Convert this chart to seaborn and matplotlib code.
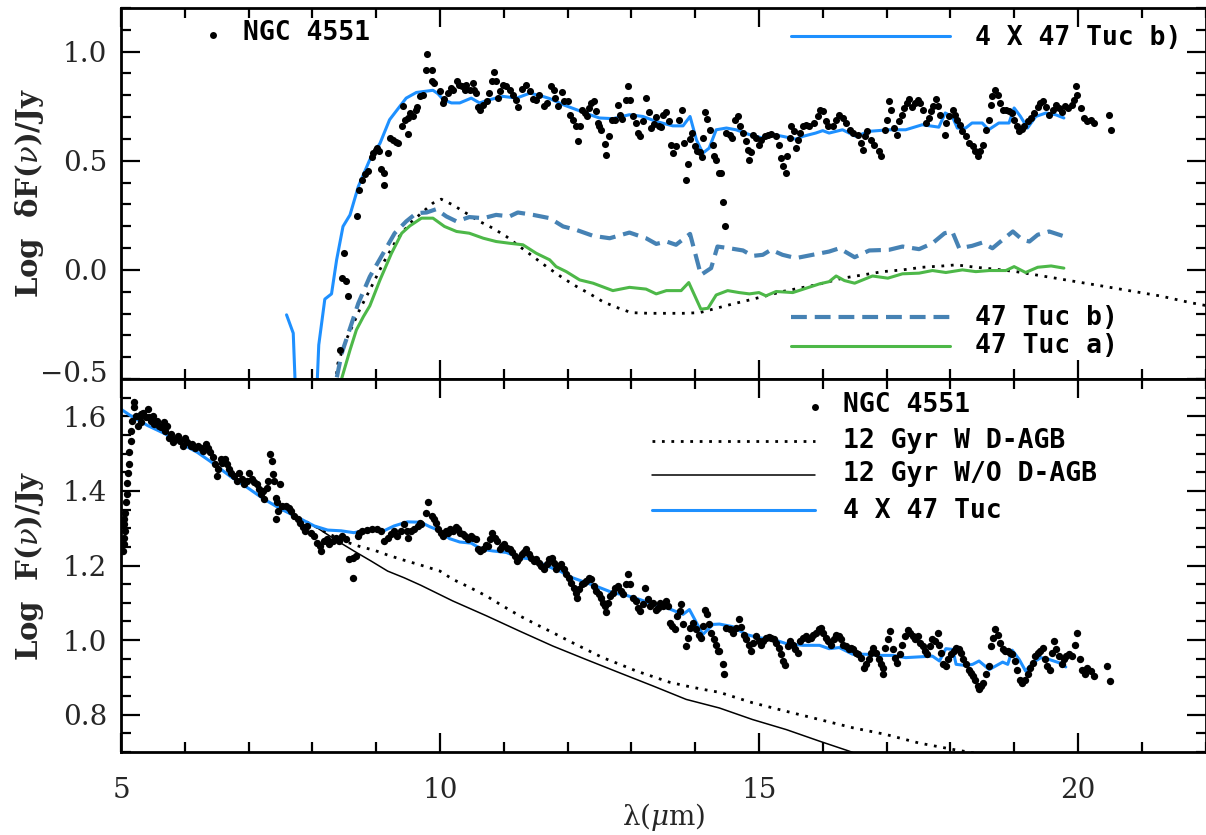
import matplotlib
matplotlib.use("Agg")
import matplotlib.pyplot as plt
import matplotlib.transforms as mtransforms
from matplotlib.ticker import MultipleLocator, FixedLocator
import seaborn as sns
import pandas as pd

# ---------------- DATA ----------------
# Top panel: NGC 4551 residual spectrum (Log dF(nu)/Jy)
top_ngc_points = [
    (8.43, -0.367), (8.49, 0.077), (8.46, -0.038), (8.53, -0.053), (8.56, -0.119),
    (8.70, 0.248), (8.73, 0.367), (8.77, 0.413), (8.82, 0.440), (8.87, 0.451),
    (8.93, 0.517), (8.95, 0.535), (8.99, 0.551), (9.01, 0.558), (9.05, 0.543),
    (9.08, 0.462), (9.13, 0.443), (9.12, 0.390), (9.19, 0.535), (9.21, 0.604),
    (9.27, 0.596), (9.31, 0.584), (9.34, 0.581), (9.42, 0.752), (9.40, 0.658),
    (9.45, 0.688), (9.50, 0.696), (9.53, 0.719), (9.58, 0.703), (9.62, 0.734),
    (9.64, 0.746), (9.50, 0.624), (9.68, 0.798), (9.73, 0.803), (9.80, 0.991),
    (9.78, 0.917), (9.88, 0.914), (9.87, 0.864), (9.90, 0.856), (10.00, 0.818),
    (10.05, 0.765), (10.07, 0.783), (10.13, 0.810), (10.18, 0.833), (10.20, 0.826),
    (10.26, 0.864), (10.30, 0.849), (10.34, 0.841), (10.39, 0.823), (10.41, 0.849),
    (10.47, 0.826), (10.52, 0.856), (10.54, 0.826), (10.57, 0.810), (10.60, 0.746),
    (10.62, 0.731), (10.67, 0.757), (10.73, 0.772), (10.77, 0.810), (10.81, 0.864),
    (10.84, 0.905), (10.88, 0.864), (10.94, 0.818), (10.91, 0.787), (10.99, 0.849),
    (11.04, 0.841), (11.09, 0.826), (11.14, 0.803), (11.19, 0.780), (11.22, 0.746),
    (11.29, 0.829), (11.35, 0.849), (11.41, 0.818), (11.46, 0.783), (11.51, 0.780),
    (11.56, 0.803), (11.63, 0.749), (11.67, 0.765),
    (11.745, 0.841), (11.78, 0.826), (11.81, 0.787), (11.85, 0.749), (11.92, 0.813),
    (11.95, 0.772), (12.01, 0.772), (12.04, 0.711), (12.08, 0.688), (12.13, 0.660),
    (12.16, 0.589), (12.20, 0.658), (12.23, 0.734), (12.27, 0.719), (12.30, 0.703),
    (12.34, 0.742), (12.37, 0.765), (12.41, 0.772), (12.44, 0.726), (12.48, 0.673),
    (12.50, 0.658), (12.53, 0.642), (12.58, 0.578), (12.61, 0.528), (12.65, 0.615),
    (12.69, 0.688), (12.74, 0.688), (12.79, 0.757), (12.82, 0.711), (12.86, 0.691),
    (12.91, 0.780), (12.95, 0.844), (12.98, 0.780), (13.02, 0.703), (13.07, 0.673),
    (13.10, 0.627), (13.14, 0.612), (13.19, 0.680), (13.23, 0.787), (13.27, 0.722),
    (13.31, 0.650), (13.35, 0.670), (13.39, 0.700), (13.43, 0.661), (13.47, 0.654),
    (13.50, 0.711), (13.55, 0.722), (13.59, 0.680), (13.62, 0.573), (13.66, 0.535),
    (13.70, 0.569), (13.75, 0.688), (13.79, 0.731), (13.82, 0.581), (13.85, 0.413),
    (13.89, 0.486), (13.92, 0.599), (13.95, 0.627), (13.99, 0.569), (14.03, 0.547),
    (14.07, 0.538), (14.10, 0.517), (14.13, 0.604), (14.16, 0.722), (14.19, 0.691),
    (14.24, 0.642), (14.28, 0.573), (14.30, 0.520), (14.33, 0.505), (14.37, 0.443),
    (14.40, 0.446), (14.43, 0.313), (14.47, 0.202), (14.49, 0.627), (14.54, 0.619),
    (14.58, 0.604), (14.62, 0.688), (14.67, 0.703), (14.71, 0.661), (14.75, 0.627),
    (14.79, 0.589), (14.83, 0.551), (14.85, 0.505), (14.88, 0.538), (14.91, 0.619),
    (14.96, 0.604), (15.00, 0.573), (15.04, 0.596), (15.09, 0.612), (15.14, 0.619),
    (15.19, 0.624), (15.26, 0.612), (15.31, 0.573), (15.35, 0.512), (15.38, 0.474),
    (15.42, 0.446), (15.44, 0.520), (15.48, 0.604), (15.50, 0.658), (15.55, 0.635),
    (15.58, 0.558), (15.61, 0.596), (15.65, 0.627), (15.69, 0.661), (15.74, 0.665),
    (15.79, 0.658), (15.87, 0.673), (15.92, 0.703), (15.96, 0.734), (16.01, 0.726),
    (16.05, 0.680), (16.09, 0.658),
    (16.16, 0.661), (16.21, 0.688), (16.26, 0.711), (16.31, 0.696), (16.36, 0.673),
    (16.42, 0.642), (16.47, 0.627), (16.55, 0.619), (16.60, 0.581), (16.63, 0.550),
    (16.67, 0.612), (16.70, 0.635), (16.76, 0.596), (16.81, 0.573), (16.88, 0.543),
    (16.91, 0.520), (16.97, 0.642), (17.00, 0.688), (17.04, 0.772), (17.07, 0.734),
    (17.12, 0.650), (17.17, 0.619), (17.20, 0.680), (17.24, 0.711), (17.28, 0.742),
    (17.32, 0.765), (17.36, 0.783), (17.40, 0.746), (17.45, 0.765), (17.49, 0.780),
    (17.52, 0.765), (17.57, 0.734), (17.62, 0.673), (17.66, 0.696), (17.70, 0.726),
    (17.73, 0.752), (17.77, 0.783), (17.80, 0.749), (17.84, 0.711), (17.91, 0.619),
    (17.94, 0.673), (17.98, 0.703), (18.04, 0.734), (18.08, 0.711), (18.11, 0.688),
    (18.15, 0.665), (18.19, 0.635), (18.24, 0.612), (18.30, 0.581), (18.35, 0.566),
    (18.39, 0.543), (18.43, 0.520), (18.46, 0.543), (18.51, 0.573), (18.56, 0.642),
    (18.60, 0.688), (18.64, 0.757), (18.66, 0.795), (18.70, 0.826), (18.74, 0.803),
    (18.78, 0.765), (18.82, 0.734), (18.87, 0.734), (18.92, 0.726), (18.97, 0.719),
    (19.00, 0.688), (19.04, 0.661), (19.08, 0.635), (19.12, 0.645), (19.16, 0.658),
    (19.21, 0.680), (19.26, 0.696), (19.31, 0.719), (19.37, 0.746), (19.40, 0.765),
    (19.45, 0.772), (19.50, 0.746), (19.55, 0.711), (19.61, 0.734), (19.65, 0.757),
    (19.70, 0.742), (19.75, 0.722), (19.80, 0.749), (19.85, 0.742), (19.90, 0.757),
    (19.94, 0.780), (19.97, 0.841), (19.99, 0.803), (20.05, 0.742), (20.10, 0.696),
    (20.15, 0.680), (20.20, 0.688), (20.25, 0.673), (20.49, 0.711), (20.52, 0.642),
]

# Top panel: 4 x 47 Tuc b)
top_tuc4b_points = [
    (7.595, -0.206), (7.70, -0.29), (7.78, -0.9), (8.02, -0.9), (8.10, -0.344),
    (8.195, -0.134), (8.30, -0.11), (8.38, 0.046), (8.48, 0.199), (8.59, 0.252),
    (8.72, 0.382), (8.90, 0.505), (9.06, 0.58), (9.21, 0.688), (9.37, 0.749),
    (9.47, 0.787), (9.63, 0.813), (9.76, 0.818), (9.89, 0.823), (9.97, 0.807),
    (10.05, 0.78), (10.18, 0.765), (10.31, 0.765), (10.49, 0.787), (10.62, 0.765),
    (10.78, 0.78), (10.99, 0.795), (11.20, 0.787), (11.41, 0.81), (11.61, 0.795),
    (11.72, 0.785), (11.93, 0.757), (12.14, 0.734), (12.35, 0.711), (12.50, 0.696),
    (12.71, 0.693), (12.97, 0.711), (13.18, 0.703), (13.39, 0.68), (13.65, 0.66),
    (13.81, 0.66), (13.92, 0.703), (14.02, 0.596), (14.12, 0.535), (14.22, 0.558),
    (14.33, 0.642), (14.49, 0.65), (14.64, 0.642), (14.85, 0.62), (15.06, 0.604),
    (15.22, 0.62), (15.37, 0.612), (15.58, 0.599), (15.69, 0.612), (15.89, 0.627),
    (16.00, 0.638), (16.10, 0.627), (16.31, 0.642), (16.52, 0.612), (16.73, 0.635),
    (17.04, 0.642), (17.30, 0.642), (17.56, 0.665), (17.82, 0.654), (17.92, 0.719),
    (18.03, 0.703), (18.11, 0.65), (18.24, 0.65), (18.34, 0.673), (18.50, 0.673),
    (18.60, 0.642), (18.76, 0.673), (18.92, 0.673), (19.00, 0.742), (19.10, 0.703),
    (19.21, 0.65), (19.34, 0.703), (19.50, 0.719), (19.65, 0.711), (19.78, 0.696),
]

# Top panel: 47 Tuc b) (dashed)
top_tucb_points = [
    (8.33, -0.60), (8.38, -0.497), (8.46, -0.382), (8.59, -0.268), (8.72, -0.153),
    (8.90, -0.031), (9.11, 0.076), (9.29, 0.168), (9.47, 0.222), (9.63, 0.26),
    (9.79, 0.263), (9.94, 0.278), (10.10, 0.245), (10.26, 0.222), (10.46, 0.242),
    (10.68, 0.237), (10.88, 0.252), (11.09, 0.245), (11.22, 0.263), (11.46, 0.252),
    (11.72, 0.237), (11.93, 0.199), (12.14, 0.183), (12.40, 0.156), (12.66, 0.145),
    (12.97, 0.171), (13.23, 0.145), (13.39, 0.119), (13.55, 0.13), (13.70, 0.115),
    (13.92, 0.165), (14.09, -0.023), (14.25, 0.008), (14.35, 0.107), (14.54, 0.099),
    (14.75, 0.089), (14.90, 0.064), (15.06, 0.069), (15.19, 0.092), (15.37, 0.069),
    (15.58, 0.054), (15.84, 0.069), (16.10, 0.084), (16.26, 0.099), (16.50, 0.058),
    (16.73, 0.089), (17.04, 0.092), (17.25, 0.107), (17.51, 0.095), (17.72, 0.122),
    (17.91, 0.168), (18.03, 0.176), (18.14, 0.099), (18.34, 0.11), (18.50, 0.125),
    (18.66, 0.099), (18.82, 0.138), (18.98, 0.176), (19.13, 0.138), (19.24, 0.13),
    (19.37, 0.161), (19.55, 0.176), (19.76, 0.156),
]

# Top panel: 47 Tuc a) (green)
top_tuca_points = [
    (8.40, -0.65), (8.46, -0.497), (8.59, -0.367), (8.69, -0.275), (8.80, -0.214),
    (8.90, -0.165), (9.06, -0.046), (9.24, 0.076), (9.40, 0.168), (9.53, 0.202),
    (9.71, 0.237), (9.89, 0.237), (10.07, 0.199), (10.26, 0.176), (10.46, 0.168),
    (10.68, 0.145), (10.88, 0.13), (11.09, 0.122), (11.30, 0.115), (11.51, 0.076),
    (11.72, 0.046), (11.82, 0.015), (11.98, -0.008), (12.19, -0.046), (12.40, -0.061),
    (12.71, -0.095), (12.97, -0.08), (13.23, -0.088), (13.39, -0.11), (13.55, -0.095),
    (13.78, -0.095), (13.90, -0.058), (14.09, -0.18), (14.20, -0.176), (14.33, -0.115),
    (14.51, -0.095), (14.69, -0.104), (14.85, -0.11), (15.00, -0.104), (15.11, -0.119),
    (15.27, -0.099), (15.53, -0.104), (15.74, -0.084), (15.95, -0.064), (16.10, -0.054),
    (16.21, -0.028), (16.34, -0.049), (16.50, -0.061), (16.78, -0.028), (17.02, -0.038),
    (17.25, -0.018), (17.51, -0.015), (17.72, -0.003), (17.93, -0.012), (18.19, 0.0),
    (18.40, -0.008), (18.61, -0.003), (18.87, -0.003), (19.00, 0.015), (19.18, -0.012),
    (19.37, 0.012), (19.58, 0.018), (19.78, 0.008),
]

# Top panel: dotted model curve
top_dagb_points = [
    (8.36, -0.52), (8.40, -0.428), (8.53, -0.321), (8.74, -0.183), (8.90, -0.092),
    (9.11, 0.031), (9.32, 0.138), (9.53, 0.214), (9.74, 0.268), (9.89, 0.306),
    (10.02, 0.324), (10.20, 0.298), (10.41, 0.26), (10.62, 0.222), (10.83, 0.191),
    (11.04, 0.153), (11.25, 0.107), (11.46, 0.061), (11.67, 0.015), (11.93, -0.038),
    (12.14, -0.076), (12.35, -0.11), (12.55, -0.145), (12.76, -0.171), (13.00, -0.196),
    (13.28, -0.199), (13.55, -0.199), (13.81, -0.199), (14.07, -0.196), (14.33, -0.176),
    (14.59, -0.156), (14.85, -0.138), (15.11, -0.119), (15.37, -0.099), (15.63, -0.084),
    (15.89, -0.069), (16.10, -0.054), (16.31, -0.038), (16.63, -0.023), (16.94, -0.008),
    (17.25, 0.0), (17.56, 0.012), (17.88, 0.018), (18.09, 0.023), (18.40, 0.012),
    (18.71, 0.003), (19.03, -0.008), (19.34, -0.023), (19.65, -0.038), (19.97, -0.054),
    (20.28, -0.069), (20.80, -0.095), (21.30, -0.12), (21.76, -0.15), (22.00, -0.163),
]

# Bottom panel: NGC 4551 spectrum (Log F(nu)/Jy)
bot_ngc_points = [
    (5.03, 1.239), (5.04, 1.257), (5.05, 1.275), (5.06, 1.293), (5.05, 1.311),
    (5.04, 1.324), (5.06, 1.342), (5.08, 1.369), (5.09, 1.391), (5.10, 1.420),
    (5.11, 1.449), (5.13, 1.473), (5.13, 1.503), (5.15, 1.534), (5.16, 1.561),
    (5.18, 1.588), (5.21, 1.626), (5.20, 1.637), (5.23, 1.601), (5.26, 1.575),
    (5.29, 1.597), (5.31, 1.606), (5.32, 1.584), (5.35, 1.610), (5.39, 1.597),
    (5.42, 1.619), (5.44, 1.597), (5.47, 1.588), (5.50, 1.601), (5.52, 1.579),
    (5.56, 1.588), (5.60, 1.575), (5.63, 1.570), (5.67, 1.584), (5.69, 1.561),
    (5.72, 1.575), (5.76, 1.543), (5.78, 1.552), (5.81, 1.530), (5.85, 1.539),
    (5.89, 1.548), (5.93, 1.534), (5.97, 1.521), (6.00, 1.543), (6.04, 1.530),
    (6.09, 1.521), (6.12, 1.525), (6.16, 1.516), (6.20, 1.521), (6.25, 1.516),
    (6.29, 1.507), (6.33, 1.525), (6.37, 1.516), (6.40, 1.503), (6.44, 1.490),
    (6.47, 1.472), (6.50, 1.440), (6.52, 1.458), (6.56, 1.485), (6.59, 1.476),
    (6.63, 1.485), (6.66, 1.472), (6.70, 1.458), (6.73, 1.449), (6.77, 1.440),
    (6.82, 1.427), (6.85, 1.449), (6.89, 1.431), (6.93, 1.418), (6.97, 1.427),
    (7.01, 1.449), (7.05, 1.431), (7.09, 1.423), (7.13, 1.418), (7.17, 1.405),
    (7.19, 1.391), (7.22, 1.400), (7.24, 1.378), (7.29, 1.409), (7.31, 1.427),
    (7.34, 1.499), (7.36, 1.479), (7.38, 1.445), (7.40, 1.427), (7.43, 1.382),
    (7.44, 1.369), (7.46, 1.346), (7.43, 1.324), (7.50, 1.418), (7.53, 1.360),
    (7.58, 1.360), (7.64, 1.355), (7.67, 1.346), (7.71, 1.333), (7.77, 1.324),
    (7.81, 1.315), (7.85, 1.302), (7.88, 1.293), (7.92, 1.306), (7.98, 1.288),
    (8.03, 1.279), (8.08, 1.261), (8.12, 1.252), (8.14, 1.239), (8.18, 1.266),
    (8.23, 1.270), (8.26, 1.257), (8.32, 1.266), (8.37, 1.275), (8.42, 1.266),
    (8.47, 1.279), (8.52, 1.270), (8.58, 1.217), (8.63, 1.221), (8.64, 1.167),
    (8.68, 1.226), (8.71, 1.279), (8.73, 1.288), (8.78, 1.293), (8.86, 1.295),
    (8.94, 1.297), (9.02, 1.297), (9.07, 1.293), (9.12, 1.266), (9.18, 1.275),
    (9.23, 1.284), (9.28, 1.293), (9.33, 1.279), (9.39, 1.293), (9.44, 1.311),
    (9.48, 1.293), (9.50, 1.275), (9.54, 1.293), (9.59, 1.297), (9.65, 1.306),
    (9.69, 1.315),
    (9.71, 1.311), (9.78, 1.342), (9.81, 1.371), (9.87, 1.333), (9.90, 1.324),
    (9.93, 1.315), (9.97, 1.297), (10.01, 1.288), (10.05, 1.279), (10.09, 1.293),
    (10.13, 1.288), (10.16, 1.297), (10.20, 1.293), (10.25, 1.302), (10.28, 1.297),
    (10.32, 1.288), (10.36, 1.284), (10.40, 1.279), (10.44, 1.270), (10.48, 1.279),
    (10.52, 1.275), (10.56, 1.270), (10.60, 1.244), (10.63, 1.239), (10.68, 1.244),
    (10.72, 1.254), (10.75, 1.252), (10.79, 1.270), (10.82, 1.288), (10.86, 1.275),
    (10.89, 1.266), (10.94, 1.244), (10.98, 1.252), (11.01, 1.257), (11.05, 1.248),
    (11.09, 1.244), (11.13, 1.235), (11.17, 1.226), (11.21, 1.212), (11.24, 1.221),
    (11.28, 1.230), (11.31, 1.235), (11.35, 1.244), (11.40, 1.230), (11.43, 1.221),
    (11.47, 1.212), (11.51, 1.217), (11.55, 1.208), (11.59, 1.199), (11.63, 1.190),
    (11.67, 1.203), (11.71, 1.217), (11.75, 1.221), (11.78, 1.208), (11.82, 1.190),
    (11.87, 1.199), (11.90, 1.203), (11.94, 1.190), (11.98, 1.176), (12.02, 1.167),
    (12.06, 1.154), (12.10, 1.141), (12.13, 1.127), (12.15, 1.114), (12.18, 1.136),
    (12.22, 1.150), (12.25, 1.154), (12.29, 1.159), (12.34, 1.167), (12.37, 1.163),
    (12.41, 1.145), (12.45, 1.132), (12.49, 1.123), (12.53, 1.114), (12.55, 1.100),
    (12.58, 1.091), (12.61, 1.074), (12.63, 1.100), (12.67, 1.118), (12.71, 1.127),
    (12.75, 1.141), (12.79, 1.145), (12.83, 1.132), (12.87, 1.123), (12.91, 1.150),
    (12.95, 1.176), (12.98, 1.150), (13.02, 1.114), (13.07, 1.105), (13.10, 1.087),
    (13.14, 1.078), (13.18, 1.096), (13.22, 1.141), (13.26, 1.109), (13.30, 1.091),
    (13.34, 1.100), (13.38, 1.082), (13.42, 1.087), (13.45, 1.100), (13.49, 1.091),
    (13.54, 1.105), (13.57, 1.091), (13.60, 1.047), (13.64, 1.038), (13.68, 1.029),
    (13.71, 1.065), (13.76, 1.078), (13.78, 1.096), (13.81, 1.042), (13.85, 0.984),
    (13.89, 1.006), (13.92, 1.033), (13.96, 1.047), (14.01, 1.029), (14.06, 1.015),
    (14.09, 1.006), (14.13, 1.038), (14.16, 1.082), (14.18, 1.069), (14.21, 1.042),
    (14.25, 1.020), (14.29, 1.002), (14.33, 0.988), (14.36, 0.971),
    (14.38, 0.971), (14.43, 0.935), (14.46, 0.908), (14.49, 1.033), (14.54, 1.029),
    (14.59, 1.020), (14.64, 1.033), (14.68, 1.056), (14.72, 1.036), (14.76, 1.015),
    (14.80, 1.002), (14.84, 0.986), (14.88, 0.971), (14.91, 0.993), (14.96, 1.011),
    (15.00, 0.997), (15.03, 0.988), (15.07, 0.997), (15.11, 1.006), (15.15, 1.009),
    (15.19, 1.006), (15.23, 1.002), (15.27, 0.993), (15.31, 0.979), (15.35, 0.962),
    (15.38, 0.944), (15.41, 0.932), (15.45, 0.984), (15.49, 0.997), (15.53, 0.988),
    (15.57, 0.975), (15.61, 0.966), (15.64, 0.997), (15.69, 1.006), (15.73, 1.011),
    (15.77, 1.004), (15.82, 1.006), (15.85, 1.015), (15.89, 1.020), (15.94, 1.030),
    (15.97, 1.033), (16.01, 1.020), (16.05, 1.006), (16.09, 0.997), (16.13, 0.988),
    (16.17, 1.002), (16.21, 1.015), (16.25, 1.011), (16.29, 1.002), (16.32, 0.988),
    (16.36, 0.984), (16.41, 0.975), (16.44, 0.979), (16.48, 0.975), (16.52, 0.966),
    (16.56, 0.962), (16.60, 0.953), (16.64, 0.926), (16.68, 0.935), (16.72, 0.948),
    (16.76, 0.966), (16.79, 0.979), (16.83, 0.966), (16.88, 0.948), (16.91, 0.935),
    (16.95, 0.926), (16.94, 0.908), (16.98, 0.979), (17.02, 1.002), (17.05, 1.024),
    (17.10, 0.975), (17.14, 0.953), (17.17, 0.939), (17.21, 0.962), (17.25, 0.988),
    (17.29, 1.011), (17.33, 1.027), (17.37, 1.020), (17.41, 1.011), (17.45, 1.002),
    (17.49, 1.011), (17.52, 0.993), (17.57, 0.984), (17.61, 0.971), (17.64, 0.962),
    (17.68, 0.984), (17.72, 1.002), (17.76, 0.997), (17.80, 1.020), (17.83, 0.988),
    (17.85, 0.966), (17.89, 0.935), (17.93, 0.930), (17.97, 0.948), (18.01, 0.962),
    (18.05, 0.971), (18.09, 0.979), (18.13, 0.975), (18.17, 0.966), (18.20, 0.948),
    (18.24, 0.935), (18.29, 0.921), (18.32, 0.912), (18.36, 0.903), (18.39, 0.894),
    (18.43, 0.877), (18.45, 0.868), (18.48, 0.877), (18.52, 0.886), (18.56, 0.908),
    (18.60, 0.930), (18.64, 0.984), (18.67, 1.006), (18.70, 1.029), (18.74, 1.015),
    (18.78, 0.993), (18.82, 0.975), (18.86, 0.971), (18.90, 0.971), (18.93, 0.966),
    (18.97, 0.962), (19.02, 0.944), (19.05, 0.921), (19.09, 0.894), (19.13, 0.886),
    (19.17, 0.894), (19.21, 0.908), (19.25, 0.926), (19.29, 0.939), (19.33, 0.957),
    (19.37, 0.966), (19.40, 0.971), (19.45, 0.979), (19.49, 0.948), (19.52, 0.930),
    (19.56, 0.921), (19.59, 0.966), (19.63, 0.997), (19.66, 0.975), (19.71, 0.957),
    (19.75, 0.935), (19.78, 0.948), (19.82, 0.957), (19.86, 0.962), (19.90, 0.957),
    (19.96, 0.988), (19.99, 1.020), (20.03, 0.948), (20.07, 0.921), (20.11, 0.908),
    (20.15, 0.926), (20.20, 0.917), (20.25, 0.903), (20.46, 0.930), (20.50, 0.890),
]

# Bottom panel: 4 x 47 Tuc
bot_tuc4_points = [
    (5.00, 1.619), (5.157, 1.601), (5.42, 1.575), (5.68, 1.554), (5.94, 1.527),
    (6.20, 1.503), (6.46, 1.472), (6.72, 1.438), (6.98, 1.409), (7.24, 1.378),
    (7.51, 1.351), (7.77, 1.329), (8.03, 1.306), (8.24, 1.295), (8.45, 1.293),
    (8.65, 1.288), (8.86, 1.295), (9.12, 1.293), (9.28, 1.306), (9.49, 1.317),
    (9.70, 1.316), (9.84, 1.304), (10.00, 1.293), (10.15, 1.272), (10.31, 1.263),
    (10.49, 1.260), (10.65, 1.244), (10.83, 1.239), (11.04, 1.235), (11.25, 1.221),
    (11.46, 1.217), (11.67, 1.199), (11.88, 1.185), (12.08, 1.167), (12.29, 1.154),
    (12.50, 1.141), (12.71, 1.127), (12.92, 1.120), (13.13, 1.109), (13.34, 1.096),
    (13.55, 1.087), (13.81, 1.069), (13.91, 1.082), (14.12, 1.015), (14.28, 1.042),
    (14.38, 1.043), (14.59, 1.036), (14.80, 1.015), (15.01, 1.006), (15.22, 1.002),
    (15.42, 0.991), (15.69, 0.986), (15.95, 0.986), (16.10, 0.977), (16.26, 0.980),
    (16.47, 0.962), (16.68, 0.962), (16.89, 0.959), (17.10, 0.959), (17.30, 0.953),
    (17.51, 0.955), (17.72, 0.957), (17.83, 0.944), (17.93, 0.977), (18.04, 0.975),
    (18.09, 0.935), (18.24, 0.932), (18.35, 0.935), (18.45, 0.944), (18.61, 0.921),
    (18.82, 0.941), (18.90, 0.935), (18.97, 0.973), (19.08, 0.948), (19.18, 0.917),
    (19.29, 0.939), (19.42, 0.953), (19.55, 0.948), (19.71, 0.939), (19.81, 0.928),
]

# Bottom panel: 12 Gyr model with D-AGB (dotted)
bot_wdagb_points = [
    (7.51, 1.351), (7.77, 1.329), (8.03, 1.306), (8.24, 1.286), (8.55, 1.262),
    (8.76, 1.250), (8.97, 1.241), (9.18, 1.228), (9.44, 1.214), (9.70, 1.201),
    (10.00, 1.185), (10.20, 1.163), (10.47, 1.141), (10.73, 1.118), (10.99, 1.091),
    (11.25, 1.065), (11.51, 1.042), (11.77, 1.020), (12.03, 0.997), (12.29, 0.975),
    (12.55, 0.953), (12.82, 0.935), (13.08, 0.917), (13.34, 0.902), (13.60, 0.887),
    (13.86, 0.877), (14.12, 0.868), (14.38, 0.860), (14.90, 0.832), (15.43, 0.809),
    (15.95, 0.787), (16.47, 0.765), (16.99, 0.747), (17.51, 0.724), (18.04, 0.707),
    (18.35, 0.698), (18.60, 0.690),
]

# Bottom panel: 12 Gyr model without D-AGB (thin solid)
bot_wodagb_points = [
    (7.51, 1.351), (7.77, 1.329), (8.03, 1.306), (8.39, 1.266), (8.65, 1.239),
    (8.92, 1.212), (9.18, 1.185), (9.44, 1.167), (9.70, 1.147), (10.20, 1.105),
    (10.73, 1.065), (11.25, 1.024), (11.77, 0.984), (12.29, 0.948), (12.82, 0.912),
    (13.34, 0.877), (13.86, 0.841), (14.38, 0.818), (14.90, 0.787), (15.43, 0.760),
    (15.95, 0.729), (16.42, 0.702), (16.60, 0.690),
]

x_ticks = [5, 10, 15, 20]
top_y_ticks = [-0.5, 0.0, 0.5, 1.0]
top_y_labels = ["\u22120.5", "0.0", "0.5", "1.0"]
bot_y_ticks = [0.8, 1.0, 1.2, 1.4, 1.6]
bot_y_labels = ["0.8", "1.0", "1.2", "1.4", "1.6"]

# ---------------- STYLE ----------------
sns.set_theme(style="ticks")
plt.rcParams["font.family"] = ["DejaVu Serif", "DejaVu Sans"]
plt.rcParams["mathtext.fontset"] = "dejavuserif"

BLUE = "#1E90FF"
STEEL = "#4682B4"
GREEN = "#4DB848"
LEG_FONT = dict(family=["DejaVu Sans Mono", "DejaVu Sans"], fontsize=19,
                fontweight="bold", color="black")


def df(points):
    return pd.DataFrame(points, columns=["x", "y"])


fig = plt.figure(figsize=(12.06, 8.35), dpi=100)
left = 121 / 1206
width = (1205.5 - 121) / 1206
ax_top = fig.add_axes([left, 1 - 379 / 835, width, 371 / 835])
ax_bot = fig.add_axes([left, 1 - 752 / 835, width, 373 / 835], sharex=ax_top)

line_kw = dict(sort=False, estimator=None, errorbar=None, legend=False)

# --- top panel ---
sns.lineplot(data=df(top_dagb_points), x="x", y="y", ax=ax_top, color="black",
             linewidth=2.0, linestyle=(0, (1, 2.4)), **line_kw)
sns.lineplot(data=df(top_tucb_points), x="x", y="y", ax=ax_top, color=STEEL,
             linewidth=3.0, linestyle=(0, (3.8, 1.9)), **line_kw)
sns.lineplot(data=df(top_tuca_points), x="x", y="y", ax=ax_top, color=GREEN,
             linewidth=2.2, **line_kw)
sns.lineplot(data=df(top_tuc4b_points), x="x", y="y", ax=ax_top, color=BLUE,
             linewidth=2.2, **line_kw)
sns.scatterplot(data=df(top_ngc_points), x="x", y="y", ax=ax_top, color="black",
                s=26, linewidth=0, legend=False, zorder=5)

# --- bottom panel ---
sns.lineplot(data=df(bot_wdagb_points), x="x", y="y", ax=ax_bot, color="black",
             linewidth=2.0, linestyle=(0, (1, 2.4)), **line_kw)
sns.lineplot(data=df(bot_wodagb_points), x="x", y="y", ax=ax_bot, color="black",
             linewidth=1.1, **line_kw)
sns.lineplot(data=df(bot_tuc4_points), x="x", y="y", ax=ax_bot, color=BLUE,
             linewidth=2.2, **line_kw)
sns.scatterplot(data=df(bot_ngc_points), x="x", y="y", ax=ax_bot, color="black",
                s=28, linewidth=0, legend=False, zorder=5)

# ---------------- AXES ----------------
ax_top.set_xlim(5, 22)
ax_top.set_ylim(-0.5, 1.2)
ax_bot.set_ylim(0.7, 1.7)

for ax in (ax_top, ax_bot):
    ax.xaxis.set_major_locator(FixedLocator(x_ticks))
    ax.xaxis.set_minor_locator(MultipleLocator(1))
    ax.tick_params(which="both", direction="in", top=True, right=True,
                   width=1.6, color="black")
    ax.tick_params(which="major", length=14)
    ax.tick_params(which="minor", length=7)
    ax.tick_params(axis="y", labelsize=20, pad=10)
    ax.tick_params(axis="x", labelsize=20, pad=18)
    for sp in ax.spines.values():
        sp.set_linewidth(2.0)
        sp.set_color("black")
    ax.set_xlabel("")
    ax.set_ylabel("")

ax_top.tick_params(axis="x", labelbottom=False)
ax_top.set_yticks(top_y_ticks, top_y_labels)
ax_top.yaxis.set_minor_locator(MultipleLocator(0.1))
ax_bot.set_yticks(bot_y_ticks, bot_y_labels)
ax_bot.yaxis.set_minor_locator(MultipleLocator(0.05))
ax_bot.set_xticks(x_ticks, [str(v) for v in x_ticks])

# lift the bottom "-0.5" label a little, as in the reference
lab = ax_top.get_yticklabels()[0]
lab.set_transform(lab.get_transform() +
                  mtransforms.ScaledTranslation(0, 8 / 100, fig.dpi_scale_trans))

ax_top.set_ylabel("Log  δF($\\nu$)/Jy", fontsize=21, fontweight="bold")
ax_bot.set_ylabel("Log  F($\\nu$)/Jy", fontsize=21, fontweight="bold")
ax_top.yaxis.set_label_coords(-0.069, 0.5)
ax_bot.yaxis.set_label_coords(-0.069, 0.5)
ax_bot.set_xlabel("λ($\\mu$m)", fontsize=20, labelpad=-2)

# ---------------- LEGEND KEYS ----------------
def key_line(ax, x0, x1, y, **kw):
    ax.plot([x0, x1], [y, y], transform=ax.transAxes, clip_on=False, **kw)


def key_text(ax, x, y, s):
    ax.text(x, y, s, transform=ax.transAxes, ha="left", va="baseline", **LEG_FONT)


# top panel
ax_top.plot([0.0848], [0.927], "o", color="black", markersize=5,
            markeredgewidth=0, transform=ax_top.transAxes)
key_text(ax_top, 0.1125, 0.914, "NGC 4551")
key_line(ax_top, 0.6178, 0.7644, 0.9245, color=BLUE, linewidth=2.2)
key_text(ax_top, 0.7875, 0.900, "4 X 47 Tuc b)")
key_line(ax_top, 0.6178, 0.7644, 0.167, color=STEEL, linewidth=3.0,
         linestyle=(0, (3.8, 1.9)))
key_text(ax_top, 0.7875, 0.1456, "47 Tuc b)")
key_line(ax_top, 0.6178, 0.7644, 0.089, color=GREEN, linewidth=2.2)
key_text(ax_top, 0.7875, 0.070, "47 Tuc a)")

# bottom panel
ax_bot.plot([0.6395], [0.9257], "o", color="black", markersize=5,
            markeredgewidth=0, transform=ax_bot.transAxes)
key_text(ax_bot, 0.666, 0.9115, "NGC 4551")
key_line(ax_bot, 0.4896, 0.640, 0.8338, color="black", linewidth=2.0,
         linestyle=(0, (1, 2.4)))
key_text(ax_bot, 0.666, 0.815, "12 Gyr W D-AGB")
key_line(ax_bot, 0.4896, 0.640, 0.7426, color="black", linewidth=1.1)
key_text(ax_bot, 0.666, 0.7265, "12 Gyr W/O D-AGB")
key_line(ax_bot, 0.4896, 0.640, 0.6488, color=BLUE, linewidth=2.2)
key_text(ax_bot, 0.666, 0.6273, "4 X 47 Tuc")

fig.savefig("out.png", dpi=100)
